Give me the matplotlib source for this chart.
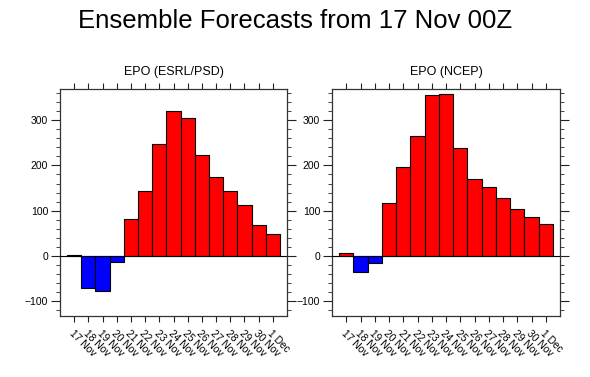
import matplotlib
matplotlib.use("Agg")
import matplotlib.pyplot as plt
from matplotlib.ticker import MultipleLocator

plt.rcParams['font.family'] = ['Liberation Sans', 'DejaVu Sans']

dates = ["17 Nov", "18 Nov", "19 Nov", "20 Nov", "21 Nov", "22 Nov", "23 Nov",
         "24 Nov", "25 Nov", "26 Nov", "27 Nov", "28 Nov", "29 Nov", "30 Nov", "1 Dec"]
esrl = [2, -72, -78, -14, 81, 143, 248, 321, 304, 224, 174, 143, 112, 68, 48]
ncep = [7, -35, -16, 118, 197, 266, 355, 358, 238, 169, 152, 129, 104, 86, 70]
titles = ["EPO (ESRL/PSD)", "EPO (NCEP)"]
main_title = "Ensemble Forecasts from 17 Nov 00Z"

W, H = 590, 377
fig = plt.figure(figsize=(W / 100, H / 100), dpi=100)

boxes = [(60, 89, 287, 316), (332, 89, 560, 316)]

for (x0, y0, x1, y1), vals, ttl in zip(boxes, [esrl, ncep], titles):
    ax = fig.add_axes([x0 / W, 1 - y1 / H, (x1 - x0) / W, (y1 - y0) / H])
    xs = list(range(len(vals)))
    colors = ["#ff0000" if v >= 0 else "#0000ff" for v in vals]
    ax.bar(xs, vals, width=1.0, color=colors, edgecolor="black", linewidth=0.8, zorder=2)
    ax.axhline(0, color="black", linewidth=0.8, zorder=3)
    ax.set_xlim(-1, len(vals))
    ax.set_ylim(-133, 369)
    ax.yaxis.set_major_locator(MultipleLocator(100))
    ax.yaxis.set_minor_locator(MultipleLocator(20))
    ax.set_xticks(xs)
    ax.set_xticklabels(dates, rotation=-45, ha="left", va="top",
                       rotation_mode="anchor", fontsize=7.4)
    ax.tick_params(axis="x", which="both", direction="out", length=4.3, width=0.8,
                   top=True, bottom=True, pad=4.5, color="#222222")
    ax.tick_params(axis="y", which="major", direction="out", length=6.5, width=0.8,
                   left=True, right=True, labelsize=7.5, pad=2, color="#222222")
    ax.tick_params(axis="y", which="minor", direction="out", length=2.9, width=0.6,
                   left=True, right=True, color="#222222")
    for s in ax.spines.values():
        s.set_linewidth(0.9)
        s.set_color("#333333")
    fig.text((x0 + x1) / 2 / W, 1 - 75 / H, ttl, ha="center", va="baseline", fontsize=9)

fig.text(0.5, 1 - 28 / H, main_title, ha="center", va="baseline", fontsize=18.5)

fig.savefig("out.png", dpi=100)
